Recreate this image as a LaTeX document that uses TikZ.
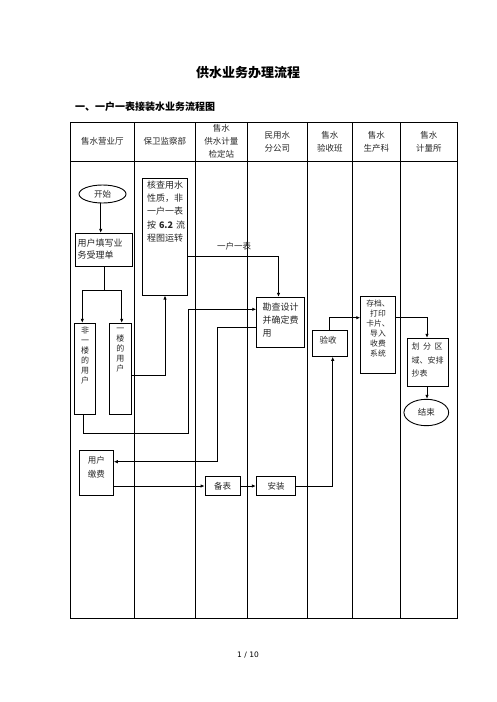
\documentclass[tikz,border=0pt]{standalone}
\usepackage{fontspec}
\setmainfont{Noto Sans CJK SC}
\newfontfamily\pgfont{DejaVu Sans}
\usetikzlibrary{arrows.meta,shapes.geometric}
\tikzset{
  tline/.style={line width=1pt},
  box/.style={draw, line width=0.9pt, rectangle, inner sep=0pt},
  oval/.style={draw, line width=0.9pt, ellipse, inner sep=0pt},
  arr/.style={line width=0.9pt, -{Latex[length=4pt,width=3.4pt]}},
  ln/.style={line width=0.9pt},
  hd/.style={font=\fontsize{8.5}{12.5}\selectfont, align=center, inner sep=0pt, text=black!85},
  tx/.style={inner sep=0pt, text=black!85},
}
\begin{document}
\begin{tikzpicture}[x=1pt,y=-1pt]
\useasboundingbox (0,0) rectangle (496,702);
% titles
\node[inner sep=0pt, font=\fontsize{13}{15}\selectfont\bfseries] (title) at (248,73) {供水业务办理流程};
\node[inner sep=0pt, anchor=west, font=\fontsize{10}{12}\selectfont\bfseries] (sub) at (75,107) {一、一户一表接装水业务流程图};
\node[inner sep=0pt, font=\pgfont\fontsize{7.5}{9}\selectfont] (page) at (248,655) {1 / 10};
% table
\draw[tline] (70.3,122.3) rectangle (457.3,618.3);
\draw[tline] (70.3,161) -- (457.3,161);
\foreach \x in {134.3,195.3,247.3,307.3,352.3,400.3} \draw[tline] (\x,122.3) -- (\x,618.3);
% header
\node[hd] (h1) at (102.3,141) {售水营业厅};
\node[hd] (h2) at (164.8,141) {保卫监察部};
\node[hd, font=\fontsize{8.5}{13}\selectfont] (h3) at (221.3,141) {售水\\供水计量\\检定站};
\node[hd] (h4) at (277.3,142) {民用水\\分公司};
\node[hd] (h5) at (329.8,142) {售水\\验收班};
\node[hd] (h6) at (376.3,142) {售水\\生产科};
\node[hd] (h7) at (428.8,142) {售水\\计量所};
% boxes
\node[oval, minimum width=47pt, minimum height=18pt, font=\fontsize{8.5}{10}\selectfont, text=black!85] (start) at (102.5,194) {开始};
\node[box, minimum width=56.6pt, minimum height=32.7pt] (fill) at (104,249.7) {};
\node[tx, anchor=west, align=left, font=\fontsize{9}{12.5}\selectfont] (fillt) at (77.3,248.8) {用户填写业\\务受理单};
\node[box, minimum width=21.4pt, minimum height=91pt] (fei) at (85,368.8) {};
\node[tx, align=center, font=\fontsize{8}{10}\selectfont] (feit) at (85,355) {非\\一\\楼\\的\\用\\户};
\node[box, minimum width=22.4pt, minimum height=91pt] (yi) at (120.5,368.8) {};
\node[tx, align=center, font=\fontsize{8}{10}\selectfont] (yit) at (120.3,350) {一\\楼\\的\\用\\户};
\node[box, minimum width=45.4pt, minimum height=116.7pt] (hc) at (165,236.7) {};
\node[tx, anchor=west, align=left, font=\fontsize{9}{13.25}\selectfont] (hct) at (146.8,211.5) {核查用水\\性质，非\\一户一表\\按\hspace{3pt}\textbf{6.2}\hspace{3pt}流\\程图运转};
\node[box, minimum width=47.6pt, minimum height=49.7pt] (kc) at (280.5,322.2) {};
\node[tx, anchor=west, align=left, font=\fontsize{9}{13.3}\selectfont] (kct) at (262.3,320) {勘查设计\\并确定费\\用};
\node[box, minimum width=34pt, minimum height=44.6pt] (pay) at (96.3,473) {};
\node[tx, align=center, font=\fontsize{8.5}{13.3}\selectfont] (payt) at (96.3,467.3) {用户\\缴费};
\node[box, minimum width=35.3pt, minimum height=18.6pt, font=\fontsize{8.5}{10}\selectfont, text=black!85] (bb) at (222.7,486) {备表};
\node[box, minimum width=39.4pt, minimum height=18.6pt, font=\fontsize{8.5}{10}\selectfont, text=black!85] (az) at (276,486) {安装};
\node[box, minimum width=35pt, minimum height=26pt] (ys) at (329.8,343.3) {};
\node[tx, font=\fontsize{8.5}{10}\selectfont] (yst) at (328,340.5) {验收};
\node[box, minimum width=34.6pt, minimum height=77.3pt] (cd) at (378,334.7) {};
\node[tx, align=center, font=\fontsize{7.8}{10}\selectfont] (cdt) at (378,328.2) {存档、\\打印\\卡片、\\导入\\收费\\系统};
\node[box, minimum width=41pt, minimum height=48.4pt] (hf) at (428.2,362.5) {};
\node[tx, anchor=west, align=left, font=\fontsize{8}{13.6}\selectfont] (hft) at (411.5,360.3) {划\hspace{3.5pt}分\hspace{3.5pt}区\\域、安排\\抄表};
\node[oval, minimum width=44.7pt, minimum height=26.4pt, font=\fontsize{8.5}{10}\selectfont, text=black!85] (end) at (426.3,412.5) {结束};
\node[tx, font=\fontsize{8.5}{10}\selectfont] (lbl) at (234,246) {一户一表};
% connectors
\coordinate (sp) at (104.3,290.3);
\coordinate (w1) at (188.3,433.3);
\coordinate (w2) at (217.3,461.7);
\draw[arr] ([xshift=-1.8pt]start.south) -- ([xshift=-1.8pt]start.south |- fill.north);
\draw[ln] ([xshift=0.3pt]fill.south) -- (sp);
\draw[arr] (sp) -| ([xshift=-2.7pt]fei.north);
\draw[arr] (sp) -| ([xshift=1.2pt]yi.north);
\draw[arr] ([yshift=-6.5pt]yi.east) -| (hc.south);
\draw[arr] ([yshift=-20pt]hc.east) -| ([xshift=-2pt]kc.north);
\draw[arr] ([xshift=-1.7pt]fei.south) |- (w1) |- ([yshift=12.9pt]kc.west);
\draw[arr] ([yshift=-5.5pt]kc.west) -| (w2) -- ([yshift=11.3pt]pay.east);
\draw[arr] (pay.east |- bb.west) -- (bb.west);
\draw[arr] (bb.east) -- (az.west);
\draw[arr] (az.east) -| ([xshift=2.9pt]ys.south);
\draw[arr] (ys.north) |- ([yshift=17pt]cd.west);
\draw[arr] ([yshift=17.4pt]cd.east) -| ([xshift=-1.2pt]hf.north);
\draw[arr] ([xshift=-1.2pt]hf.south) -- ([xshift=-1.2pt]hf.south |- end.north);
\end{tikzpicture}
\end{document}
